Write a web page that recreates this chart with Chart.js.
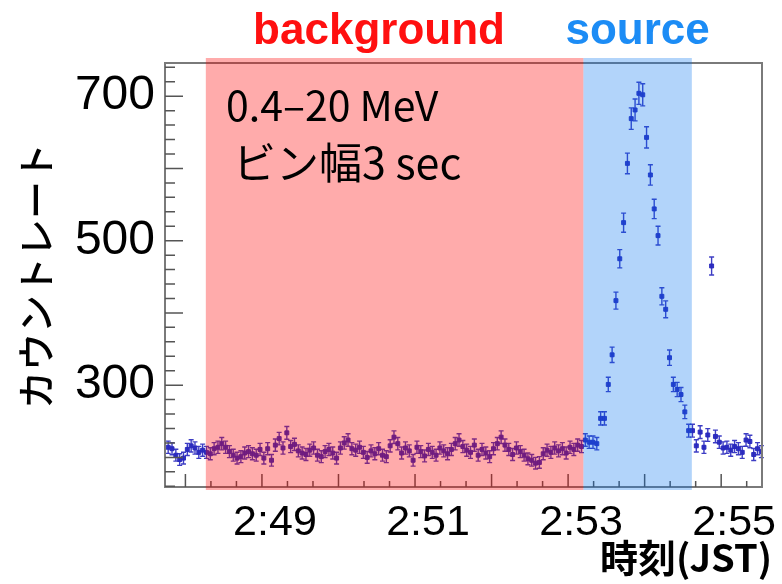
<!DOCTYPE html>
<html>
<head>
<meta charset="utf-8">
<script src="https://cdn.jsdelivr.net/npm/chart.js@4"></script>
<style>
  html, body { margin: 0; padding: 0; background: #fff; }
  #wrap { width: 782px; height: 584px; }
</style>
</head>
<body>
<div id="wrap"><canvas id="lc"></canvas></div>
<script>
// time in seconds after 2:00:00 JST, 3 s bins
const binStartSec = 2865;
const binWidthSec = 3;

// count rate per bin (counts/s)
const rates = [
  214, 212, 203, 197, 199, 211, 216, 213, 207, 210, 207,
  205, 212, 214, 219, 214, 208, 203, 199, 201, 206,
  208, 205, 203, 211, 199, 212, 196, 217, 226, 213, 234,
  215, 218, 209, 206, 204, 210, 213, 203, 201, 208,
  211, 206, 199, 213, 220, 224, 212, 210, 214, 207,
  200, 209, 205, 212, 203, 201, 216, 228, 219, 206,
  213, 209, 196, 214, 208, 202, 211, 207, 203, 213,
  209, 205, 211, 219, 224, 215, 210, 207, 217, 203,
  211, 206, 201, 212, 219, 228, 217, 211, 204, 213,
  208, 203, 198, 196, 192, 193, 205, 210, 207, 213,
  209, 212, 206, 214, 211, 217, 215,
  // source
  224, 221, 221, 219, 254, 254, 301, 342, 417, 475, 525, 607, 669, 681, 704, 702,
  643, 591, 544, 507, 423, 405, 338, 301, 294, 287, 263, 237, 237, 216,
  235, 214, 231, 465,
  229, 221, 213, 214, 210, 215, 212, 207, 224, 222, 204, 212, 208
];

const xRange = [2864, 3332];
const yRange = [159, 746];
const xLabelTicks = [2940, 3060, 3180, 3300];
const yLabelTicks = [300, 500, 700];

// highlighted intervals (s)
const bgWindow = [2896, 3192];
const srcWindow = [3192, 3277];

const points = rates.map((r, i) => ({ x: binStartSec + binWidthSec * (i + 0.5), y: r }));

function timeLabel(v) {
  const h = 2 + Math.floor(v / 3600);
  const m = Math.floor((v % 3600) / 60);
  return h + ':' + String(m).padStart(2, '0');
}

// --------------------
// custom drawing: error bars, inward ticks, frame, bands, text
// --------------------
const decor = {
  id: 'decor',
  afterDatasetsDraw(chart) {
    const { ctx, chartArea: a, scales: { x, y } } = chart;
    const meta = chart.getDatasetMeta(0);

    // error bars (Poisson, 3 s bins)
    ctx.save();
    ctx.strokeStyle = 'rgba(40,40,190,0.9)';
    ctx.lineWidth = 1.4;
    meta.data.forEach((el, i) => {
      const r = rates[i];
      const e = Math.sqrt(r / binWidthSec);
      const yt = y.getPixelForValue(r + e);
      const yb = y.getPixelForValue(r - e);
      ctx.beginPath();
      ctx.moveTo(el.x, yt); ctx.lineTo(el.x, yb);
      ctx.moveTo(el.x - 2.5, yt); ctx.lineTo(el.x + 2.5, yt);
      ctx.moveTo(el.x - 2.5, yb); ctx.lineTo(el.x + 2.5, yb);
      ctx.stroke();
    });
    ctx.restore();

    // frame + inward ticks
    ctx.save();
    ctx.strokeStyle = '#7a7a7a';
    ctx.lineWidth = 2;
    ctx.strokeRect(a.left, a.top, a.right - a.left, a.bottom - a.top);
    ctx.strokeStyle = '#555';
    ctx.lineWidth = 1.5;
    ctx.beginPath();
    for (let t = 2880; t < xRange[1]; t += 20) {
      const px = x.getPixelForValue(t);
      const len = t % 60 === 0 ? 13 : 6;
      ctx.moveTo(px, a.bottom); ctx.lineTo(px, a.bottom - len);
    }
    for (let v = 160; v < yRange[1]; v += 20) {
      const py = y.getPixelForValue(v);
      const len = v % 100 === 0 ? 18 : 10;
      ctx.moveTo(a.left, py); ctx.lineTo(a.left + len, py);
    }
    ctx.stroke();
    ctx.restore();

    // shaded windows, drawn over the data
    ctx.save();
    const bTop = a.top - 5, bBot = a.bottom + 3;
    const bx0 = x.getPixelForValue(bgWindow[0]), bx1 = x.getPixelForValue(bgWindow[1]);
    const sx0 = x.getPixelForValue(srcWindow[0]), sx1 = x.getPixelForValue(srcWindow[1]);
    ctx.fillStyle = 'rgba(255,0,0,0.33)';
    ctx.fillRect(bx0, bTop, bx1 - bx0, bBot - bTop);
    ctx.fillStyle = 'rgba(0,112,240,0.3)';
    ctx.fillRect(sx0, bTop, sx1 - sx0, bBot - bTop);

    // labels
    ctx.textAlign = 'center';
    ctx.textBaseline = 'middle';
    ctx.font = 'bold 44px "Liberation Sans", Arial, sans-serif';
    ctx.fillStyle = '#ff1010';
    ctx.fillText('background', 379, 32);
    ctx.fillStyle = '#1c8cf5';
    ctx.fillText('source', (sx0 + sx1) / 2, 32);

    ctx.fillStyle = '#000';
    ctx.textAlign = 'left';
    ctx.font = '41px "Noto Sans CJK JP", "Noto Sans", sans-serif';
    ctx.fillText('0.4–20 MeV', 226, 105);
    ctx.font = '43px "Noto Sans CJK JP", "Noto Sans", sans-serif';
    ctx.fillText('ビン幅3 sec', 233, 163);

    // axis titles
    ctx.font = '500 38px "Noto Sans CJK JP", sans-serif';
    ctx.save();
    ctx.translate(36, 276);
    ctx.rotate(-Math.PI / 2);
    ctx.textAlign = 'center';
    ctx.fillText('カウントレート', 0, 0);
    ctx.restore();

    ctx.font = 'bold 38px "Noto Sans CJK JP", sans-serif';
    ctx.textAlign = 'right';
    ctx.fillText('時刻(JST)', 772, 558);
    ctx.restore();
  }
};

new Chart(document.getElementById('lc'), {
  type: 'scatter',
  data: {
    datasets: [{
      data: points,
      pointStyle: 'rect',
      pointRadius: 2.8,
      pointHoverRadius: 2.8,
      backgroundColor: 'rgba(40,40,190,0.95)',
      borderColor: 'rgba(40,40,190,0.95)',
      borderWidth: 1
    }]
  },
  options: {
    responsive: true,
    maintainAspectRatio: false,
    animation: false,
    layout: { padding: { top: 63, right: 20, left: 0, bottom: 0 } },
    plugins: { legend: { display: false }, tooltip: { enabled: false } },
    scales: {
      x: {
        type: 'linear',
        min: xRange[0],
        max: xRange[1],
        afterBuildTicks: s => { s.ticks = xLabelTicks.map(v => ({ value: v })); },
        afterFit: s => { s.height = 97; },
        grid: { display: false, drawTicks: false },
        border: { display: false },
        ticks: {
          callback: v => timeLabel(v),
          font: { family: '"Liberation Sans", Arial, sans-serif', size: 43 },
          color: '#000',
          padding: 10,
          labelOffset: 13,
          maxRotation: 0,
          autoSkip: false
        }
      },
      y: {
        min: yRange[0],
        max: yRange[1],
        afterBuildTicks: s => { s.ticks = yLabelTicks.map(v => ({ value: v })); },
        afterFit: s => { s.width = 165; },
        grid: { display: false, drawTicks: false },
        border: { display: false },
        ticks: {
          font: { family: '"Liberation Sans", Arial, sans-serif', size: 48 },
          color: '#000',
          padding: 10
        }
      }
    }
  },
  plugins: [decor]
});
</script>
</body>
</html>
